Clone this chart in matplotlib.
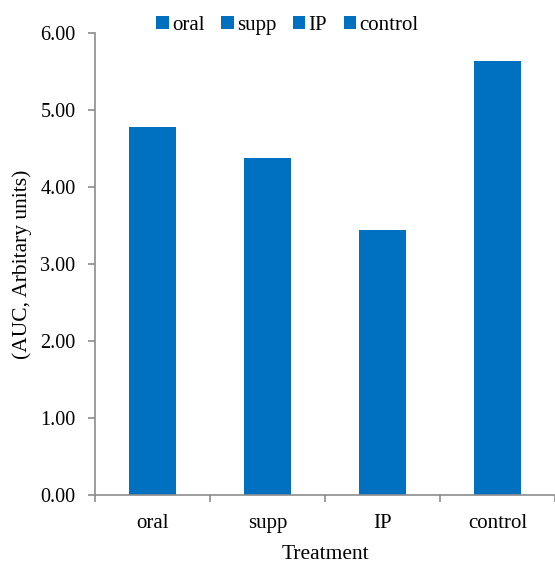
import matplotlib
matplotlib.use("Agg")
import matplotlib.pyplot as plt
import numpy as np

# data
treatments=["oral","supp","IP","control"]
auc=[4.78,4.38,3.44,5.64]
yticks=[0,1,2,3,4,5,6]

plt.rcParams['font.family']=['Liberation Serif','DejaVu Serif']
plt.rcParams['font.size']=15

blue='#0070C0'
grey='#8c8c8c'

fig=plt.figure(figsize=(5.55,5.63),dpi=100)
ax=fig.add_axes([95/555,68/563,460/555,462/563])

x=np.arange(len(treatments))
for i in range(len(treatments)):
	ax.bar(x[i],auc[i],width=0.41,color=blue,label=treatments[i])

ax.set_xlim(-0.5,len(treatments)-0.5)
ax.set_ylim(0,6)
ax.set_yticks(yticks)
ax.set_yticklabels(["%.2f"%v for v in yticks],fontsize=14.5)
ax.set_xticks(np.arange(len(treatments)+1)-0.5)
ax.set_xticklabels([])
ax.set_xticks(x,minor=True)
ax.set_xticklabels(treatments,minor=True,fontsize=15)
ax.tick_params(axis='x',which='minor',length=0,pad=14)
ax.tick_params(axis='both',which='major',direction='out',length=5,width=1.2,color=grey)
ax.tick_params(axis='y',pad=9)

for s in ['top','right']:
	ax.spines[s].set_visible(False)
for s in ['left','bottom']:
	ax.spines[s].set_color(grey)
	ax.spines[s].set_linewidth(1.2)

ax.set_xlabel("Treatment",fontsize=15.5,labelpad=8)
ax.set_ylabel("(AUC, Arbitary units)",fontsize=15.5,labelpad=6)

fig.legend(loc='upper center',bbox_to_anchor=(0.518,1.005),ncol=4,frameon=False,fontsize=15,
	handlelength=0.6,handleheight=0.6,handletextpad=0.15,columnspacing=0.8)

fig.savefig("out.png",dpi=100)
